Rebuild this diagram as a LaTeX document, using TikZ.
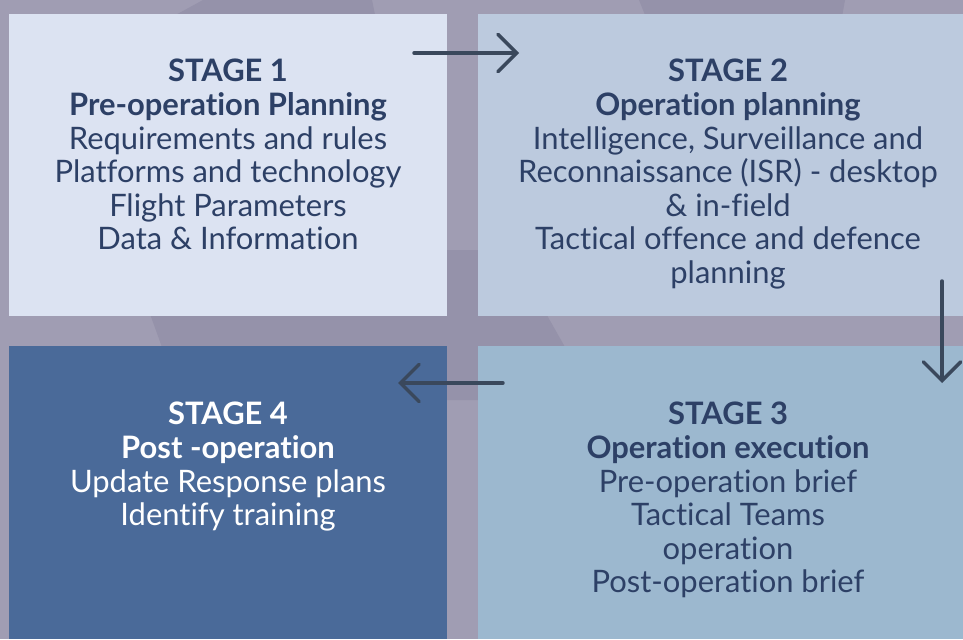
\documentclass[tikz,border=0pt]{standalone}
\usepackage{fontspec}
\setmainfont{Lato}[Ligatures=CommonOff]
\usetikzlibrary{arrows.meta}

\definecolor{backlight}{HTML}{A09DB3}
\definecolor{backdark}{HTML}{9592AA}
\definecolor{boxone}{HTML}{DCE3F2}
\definecolor{boxtwo}{HTML}{BCCADE}
\definecolor{boxthree}{HTML}{9CB8CF}
\definecolor{boxfour}{HTML}{4A6A99}
\definecolor{arrowink}{HTML}{3A485C}
\definecolor{navy}{HTML}{2D4066}

\tikzset{
  stagebox/.style={rectangle, inner sep=0pt, outer sep=0pt, anchor=north west},
  stagetext/.style={align=center, anchor=north, inner sep=0pt, text=navy,
    font=\fontsize{23.2}{25.2}\selectfont},
  flow/.style={arrowink, line width=2.6pt, line cap=round,
    -{Straight Barb[length=14pt, width=28pt, line cap=round]}}
}

\begin{document}
\begin{tikzpicture}[x=0.75pt, y=-0.75pt]
  \useasboundingbox (0,0) rectangle (963,639);
  % backdrop with a few darker facets
  \fill[backlight] (0,0) rectangle (963,639);
  \fill[backdark] (203,0) -- (372,0) -- (380,40) -- (130,40) -- cycle;
  \fill[backdark] (639,0) -- (845,0) -- (838,40) -- (655,40) -- cycle;
  \fill[backdark] (127,250) -- (510,250) -- (595,400) -- (181,400) -- cycle;

  % the four stages
  \node[stagebox, fill=boxone, minimum width=328.5pt, minimum height=226.5pt] (b1) at (9,14) {};
  \node[stagebox, fill=boxtwo, minimum width=363.75pt, minimum height=226.5pt] (b2) at (478,14) {};
  \node[stagebox, fill=boxthree, minimum width=363.75pt, minimum height=219.75pt] (b3) at (478,346) {};
  \node[stagebox, fill=boxfour, minimum width=328.5pt, minimum height=219.75pt] (b4) at (9,346) {};

  \node[stagetext] (s1) at (228,59) {\textbf{STAGE 1}\\ \textbf{Pre-operation Planning}\\
    Requirements and rules\\ Platforms and technology\\ Flight Parameters\\ Data \& Information};
  \node[stagetext] (s2) at (728,59) {\textbf{STAGE 2}\\ \textbf{Operation planning}\\
    Intelligence, Surveillance and\\ Reconnaissance (ISR) - desktop\\ \& in-field\\
    Tactical offence and defence\\ planning};
  \node[stagetext] (s3) at (728,402) {\textbf{STAGE 3}\\ \textbf{Operation execution}\\
    Pre-operation brief\\ Tactical Teams\\ operation\\ Post-operation brief};
  \node[stagetext, text=white] (s4) at (228,402) {\textbf{STAGE 4}\\ \textbf{Post -operation}\\
    Update Response plans\\ Identify training};

  % arrows between the stages
  \coordinate (a1s) at ([shift={(-33,39)}]b1.north east);
  \coordinate (a1e) at ([shift={(41,39)}]b2.north west);
  \coordinate (a2s) at ([shift={(-21,-35)}]b2.south east);
  \coordinate (a2e) at ([shift={(-21,37)}]b3.north east);
  \coordinate (a3s) at ([shift={(25,37)}]b3.north west);
  \coordinate (a3e) at ([shift={(-49,37)}]b4.north east);
  \draw[flow] (a1s) -- (a1e);
  \draw[flow] (a2s) -- (a2e);
  \draw[flow] (a3s) -- (a3e);
\end{tikzpicture}
\end{document}
